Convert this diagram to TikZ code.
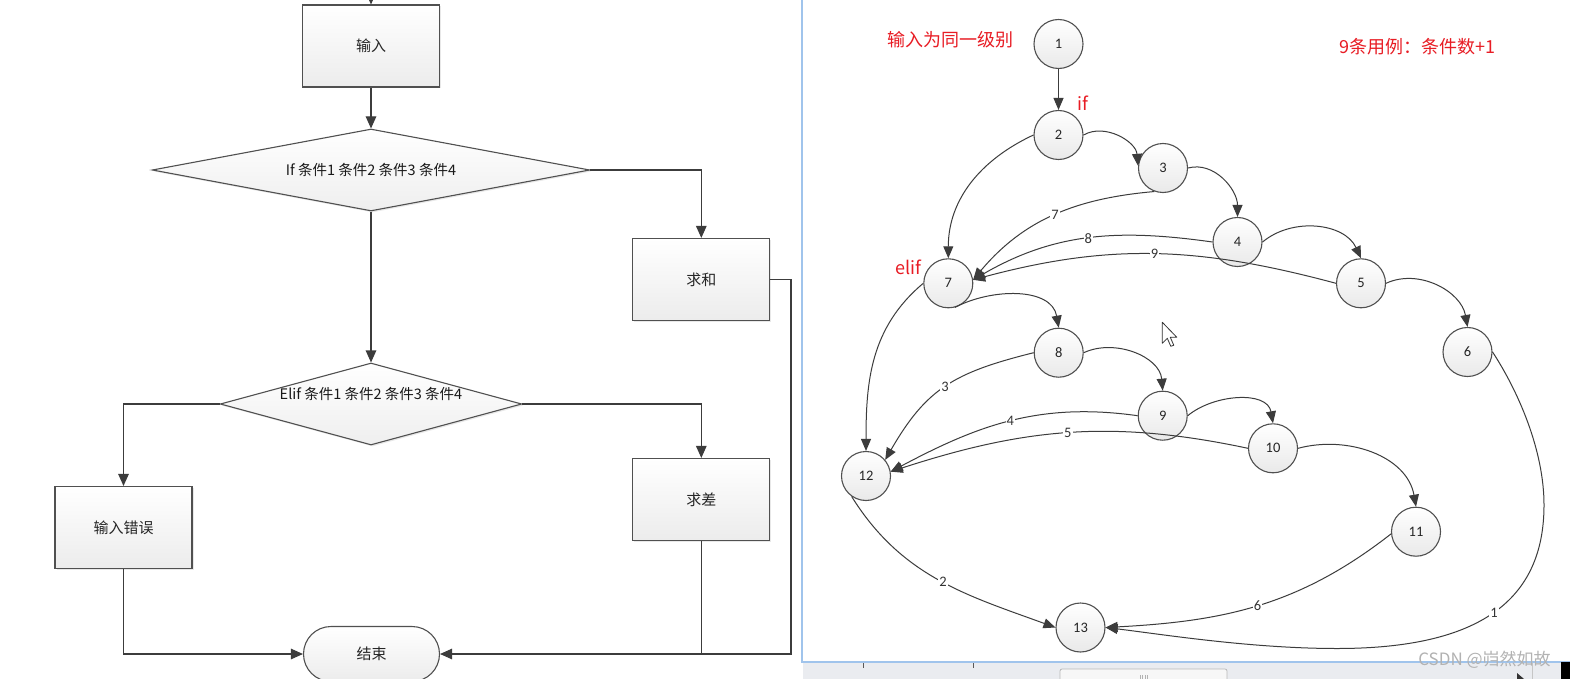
\documentclass[tikz,border=0pt]{standalone}
\usepackage{fontspec}
\setmainfont{Carlito}
\newfontfamily\cjk{Noto Sans CJK SC}
\usetikzlibrary{arrows.meta,shapes.geometric,shapes.misc,shadows}
\definecolor{lineC}{RGB}{60,60,60}
\definecolor{boxC}{RGB}{80,80,80}
\definecolor{redC}{RGB}{232,28,36}
\definecolor{frameC}{RGB}{160,196,236}
\definecolor{barC}{RGB}{234,236,240}
\tikzset{
  fbox/.style={draw=boxC, line width=1.1pt, top color=white, bottom color=gray!15,
    minimum width=137pt, minimum height=82pt, inner sep=0pt,
    font=\cjk\fontsize{15}{18}\selectfont, text=black!85,
    drop shadow={shadow xshift=1.5pt, shadow yshift=-1.5pt, opacity=0.18}},
  fdia/.style={diamond, draw=boxC, line width=1.1pt, top color=white, bottom color=gray!13,
    inner sep=0pt, font=\cjk\fontsize{14.5}{17}\selectfont, text=black!90,
    drop shadow={shadow xshift=1.5pt, shadow yshift=-1.5pt, opacity=0.18}},
  ftxt/.style={inner sep=0pt, font=\cjk\fontsize{14.5}{17}\selectfont, text=black!90},
  fend/.style={rounded rectangle, draw=boxC, line width=1.1pt, top color=white, bottom color=gray!15,
    minimum width=136pt, minimum height=55pt, inner sep=0pt,
    font=\cjk\fontsize{15}{18}\selectfont, text=black!85},
  farr/.style={draw=lineC, line width=1.1pt, -{Triangle[length=12pt,width=10.5pt]}},
  fline/.style={draw=lineC, line width=1.1pt},
  gnode/.style={circle, draw=boxC, line width=1.1pt, top color=white, bottom color=gray!17,
    minimum size=49pt, inner sep=0pt, font=\fontsize{14.5}{16}\selectfont, text=black!85},
  garr/.style={draw=lineC, line width=1pt, -{Triangle[length=12pt,width=10pt]}},
  glbl/.style={fill=white, inner sep=1pt, font=\fontsize{14.5}{16}\selectfont, text=black!80},
  redtxt/.style={text=redC, font=\cjk\fontsize{18}{21}\selectfont, inner sep=0pt},
}
\begin{document}
\begin{tikzpicture}[x=1pt,y=1pt]
\useasboundingbox (0,0) rectangle (1570,-679);
\clip (0,0) rectangle (1570,-679);
\fill[white] (0,0) rectangle (1570,-679);

% ---------------- left flowchart ----------------
\node[fbox] (in) at (371,-46) {输入};
\node[fdia, aspect=5.34, minimum width=437.5pt, minimum height=82pt] (d1) at (371,-170) {If 条件1 条件2 条件3 条件4};
\node[fbox] (sum) at (701.3,-279.5) {求和};
\node[fdia, aspect=3.68, minimum width=301.5pt, minimum height=82pt] (d2) at (371,-404) {};
\node[ftxt] (d2t) at (371,-394) {Elif 条件1 条件2 条件3 条件4};
\node[fbox] (err) at (123.5,-527.5) {输入错误};
\node[fbox] (diff) at (701.3,-499.5) {求差};
\node[fend] (end) at (371.5,-654) {结束};

\coordinate (top) at (371,10);
\coordinate (rx) at (791,-654);
\draw[farr] (top) -- (in.north);
\draw[farr] (in.south) -- (d1.north);
\draw[farr] (d1.east) -| (sum.north);
\draw[farr] (sum.east) -| (rx) -- (end.east);
\draw[farr] (d1.south) -- (d2.north);
\draw[farr] (d2.west) -| (err.north);
\draw[farr] (d2.east) -| (diff.north);
\draw[farr] (err.south) |- (end.west);
\draw[fline] (diff.south) -- (diff.south |- end.east);

% ---------------- window frame / scrollbar ----------------
\fill[barC] (803,-663) rectangle (1570,-679);
\draw[frameC, line width=2pt] (802,0) -- (802,-662) -- (1570,-662);
\draw[gray!70!black, line width=0.8pt] (863,-663) -- (863,-668) (973,-663) -- (973,-668);
\draw[gray!55, fill=gray!6, rounded corners=2pt, line width=0.8pt] (1060,-669) rectangle (1227,-685);
\draw[gray!60, line width=0.7pt] (1140,-675) -- (1140,-679) (1142.5,-675) -- (1142.5,-679)
  (1145,-675) -- (1145,-679) (1147.5,-675) -- (1147.5,-679);
\draw[gray!45, line width=0.7pt] (1532,-663) -- (1532,-679);
\fill[black!80] (1517,-673) -- (1524,-679) -- (1517,-679) -- cycle;
\fill[black] (1561,-662) rectangle (1570,-679);

% ---------------- right graph ----------------
\node[gnode] (n1) at (1058.5,-44) {1};
\node[gnode] (n2) at (1058.5,-135) {2};
\node[gnode] (n3) at (1163,-168) {3};
\node[gnode] (n4) at (1237.5,-242) {4};
\node[gnode] (n5) at (1361,-283.3) {5};
\node[gnode] (n6) at (1467.5,-352) {6};
\node[gnode] (n7) at (948.3,-283.3) {7};
\node[gnode] (n8) at (1058.7,-352.7) {8};
\node[gnode] (n9) at (1162.7,-415.7) {9};
\node[gnode] (n10) at (1273,-448.3) {10};
\node[gnode] (n11) at (1416,-531.7) {11};
\node[gnode] (n12) at (866,-476) {12};
\node[gnode] (n13) at (1080.5,-627.5) {13};

\draw[garr] (n1) -- (n2);
\draw[garr] (n2.east) to[out=30,in=95] (n3.175);
\draw[garr] (n3.east) to[out=15,in=90] (n4.north);
\draw[garr] (n4.east) to[out=40,in=115] (n5.north);
\draw[garr] (n5.east) to[out=25,in=100] (n6.north);
\draw[garr] (n2.west) to[out=205,in=90] (n7.north);
\draw[garr] (n3.250) to[out=185,in=50] node[glbl,pos=0.49]{7} (n7.8);
\draw[garr] (n4.180) to[out=172,in=30] node[glbl,pos=0.5]{8} (n7.8);
\draw[garr] (n5.180) to[out=165,in=15] node[glbl,pos=0.5]{9} (n7.8);
\draw[garr] (n7.-75) to[out=28,in=100] (n8.north);
\draw[garr] (n7.west) to[out=220,in=90] (n12.north);
\draw[garr] (n8.east) to[out=25,in=95] (n9.north);
\draw[garr] (n9.east) to[out=40,in=100] (n10.north);
\draw[garr] (n10.east) to[out=15,in=100] (n11.north);
\draw[garr] (n8.west) to[out=194,in=60,looseness=1.15] node[glbl,pos=0.5]{3} (n12.40);
\draw[garr] (n9.west) to[out=172,in=28] node[glbl,pos=0.5]{4} (n12.10);
\draw[garr] (n10.west) to[out=168,in=18] node[glbl,pos=0.5]{5} (n12.10);
\draw[garr] (n12.235) to[out=-58,in=160] node[glbl,pos=0.52]{2} (n13.west);
\draw[garr] (n11.185) to[out=218,in=3] node[glbl,pos=0.5]{6} (n13.east);
\coordinate (w1) at (1544,-505);
\coordinate (w2) at (1337,-648.5);
\draw[garr] (n6.east) .. controls (1518,-391) and (1544,-450) .. (w1)
  .. controls (1544,-600) and (1480,-648.5) .. (w2) node[glbl,pos=0.5]{1}
  .. controls (1250,-648.5) and (1160,-634) .. (n13.east);

% red annotations
\node[redtxt] (t1) at (950,-40) {输入为同一级别};
\node[redtxt] (t2) at (1417,-46.5) {9条用例：条件数+1};
\node[redtxt] (tif) at (1082.5,-103) {if};
\node[redtxt] (telif) at (908,-267) {elif};

% mouse cursor
\filldraw[fill=white, draw=gray!40!black, line width=0.8pt, line join=round]
  (1162.3,-322.3) -- ++(0,-21) -- ++(5,5) -- ++(3.5,-8) -- ++(3,1) -- ++(-3.5,8) -- ++(6.5,0) -- cycle;

% watermark
\node[inner sep=0pt, text=gray!60, font=\cjk\fontsize{17}{19}\selectfont] (wm) at (1484.5,-660) {CSDN @岿然如故};
\end{tikzpicture}
\end{document}
